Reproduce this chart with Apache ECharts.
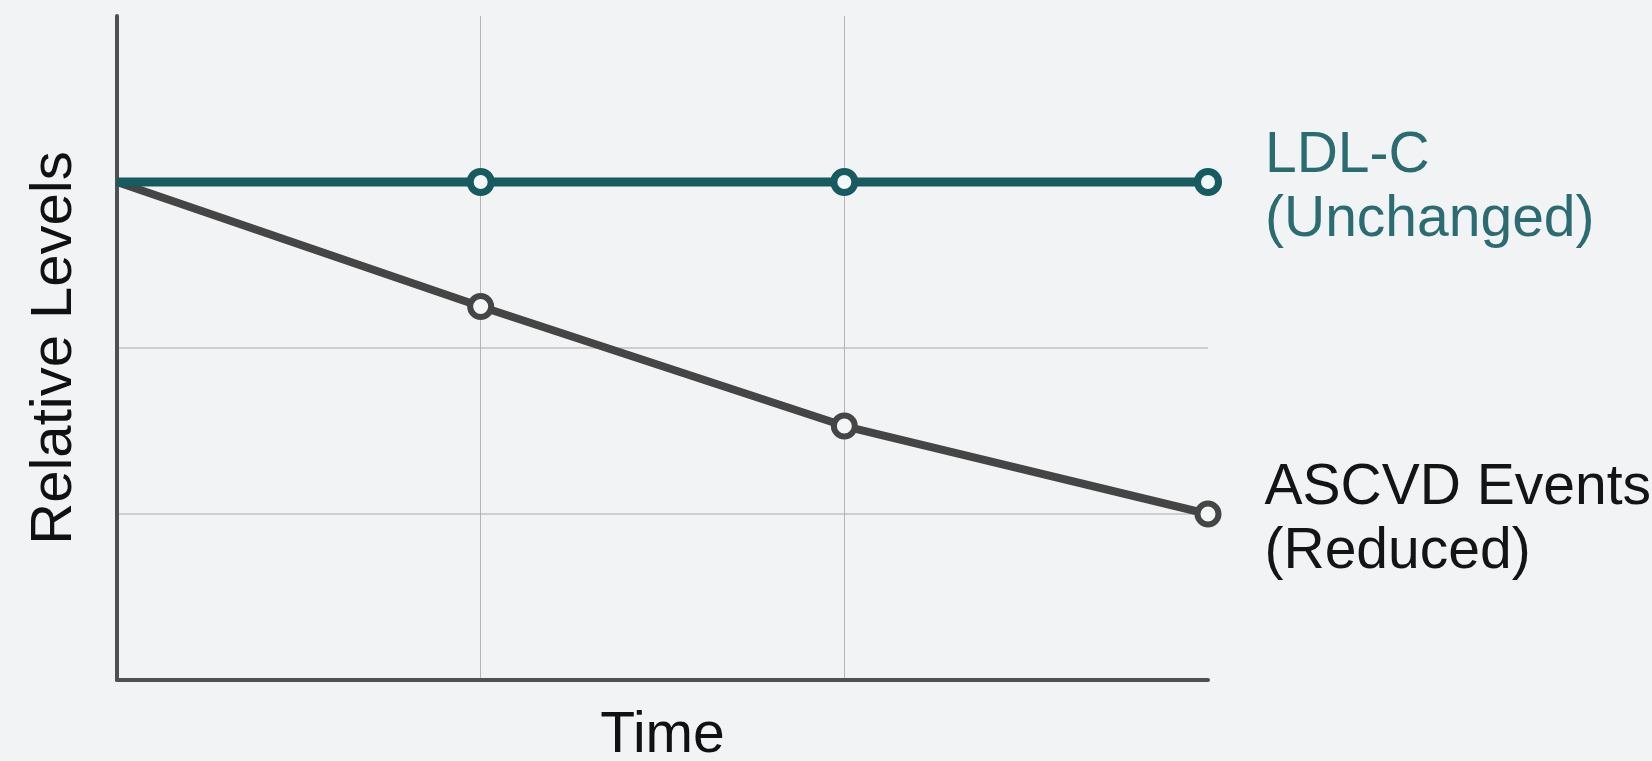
<!DOCTYPE html>
<html>
<head>
<meta charset="utf-8">
<script src="https://cdn.jsdelivr.net/npm/echarts@6/dist/echarts.min.js"></script>
<style>
html,body{margin:0;padding:0;background:#f2f3f4;}
#main{width:1652px;height:761px;}
</style>
</head>
<body>
<div id="main"></div>
<script>
// ---- data ----
var timePoints = [0, 1, 2, 3];
var ldlValues = [3, 3, 3, 3];
var ascvdValues = [3, 2.25, 1.53, 1.0];
var seriesNames = ['LDL-C', 'ASCVD Events'];
var seriesNotes = ['(Unchanged)', '(Reduced)'];
var xAxisName = 'Time';
var yAxisName = 'Relative Levels';

var FONT = '"Liberation Sans", Arial, Helvetica, sans-serif';
var TEAL = '#165b60';
var TEAL_TEXT = '#2a6c71';
var GRAY = '#454545';

function buildData(values, name, note, textColor) {
  return values.map(function (v, i) {
    var item = { value: [timePoints[i], v] };
    if (i === 0) { item.symbol = 'none'; }
    if (i === values.length - 1) {
      item.label = {
        show: true,
        position: 'right',
        distance: 43,
        offset: [0, 6],
        formatter: name + '\n' + note,
        color: textColor,
        fontSize: 57,
        lineHeight: 64,
        fontFamily: FONT,
        align: 'left'
      };
    }
    return item;
  });
}

var chart = echarts.init(document.getElementById('main'), null, { renderer: 'canvas' });
chart.setOption({
  backgroundColor: '#f2f3f4',
  animation: false,
  grid: { left: 117, right: 444, top: 16, bottom: 81, containLabel: false, outerBoundsMode: 'none' },
  xAxis: {
    type: 'value',
    min: 0, max: 3, interval: 1,
    name: xAxisName,
    nameLocation: 'middle',
    nameGap: 28,
    nameTextStyle: { fontSize: 57, color: '#111', fontFamily: FONT, verticalAlign: 'top' },
    axisLine: { show: true, lineStyle: { color: '#505050', width: 4 } },
    axisTick: { show: false },
    axisLabel: { show: false },
    splitLine: { show: true, showMinLine: false, showMaxLine: false, lineStyle: { color: '#b5b5b5', width: 1 } }
  },
  yAxis: {
    type: 'value',
    min: 0, max: 4, interval: 1,
    name: yAxisName,
    nameLocation: 'middle',
    nameGap: 33,
    nameRotate: 90,
    nameTextStyle: { fontSize: 58, color: '#111', fontFamily: FONT },
    axisLine: { show: true, lineStyle: { color: '#505050', width: 4 } },
    axisTick: { show: false },
    axisLabel: { show: false },
    splitLine: { show: true, showMinLine: false, showMaxLine: false, lineStyle: { color: '#c2c2c2', width: 1.5 } }
  },
  series: [
    {
      name: seriesNames[1],
      type: 'line',
      data: buildData(ascvdValues, seriesNames[1], seriesNotes[1], '#141414'),
      symbol: 'circle',
      symbolSize: 21,
      showAllSymbol: true,
      lineStyle: { color: GRAY, width: 8 },
      itemStyle: { color: '#f4f5f6', borderColor: GRAY, borderWidth: 6 },
      z: 2
    },
    {
      name: seriesNames[0],
      type: 'line',
      data: buildData(ldlValues, seriesNames[0], seriesNotes[0], TEAL_TEXT),
      symbol: 'circle',
      symbolSize: 21,
      showAllSymbol: true,
      lineStyle: { color: TEAL, width: 9 },
      itemStyle: { color: '#f4f7f7', borderColor: TEAL, borderWidth: 7 },
      z: 3
    }
  ]
});
</script>
</body>
</html>
